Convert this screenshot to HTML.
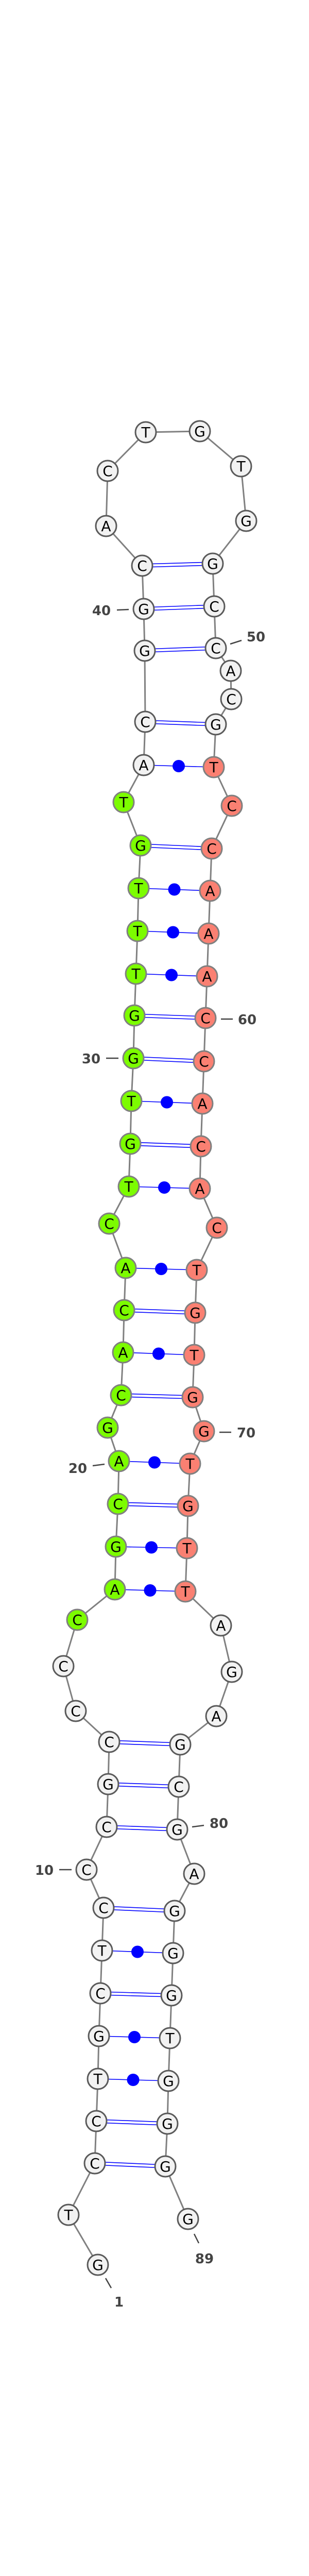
<!DOCTYPE html>
<html><head><meta charset="utf-8"><style>
html,body{margin:0;padding:0;background:#fff;width:600px;height:5251px;overflow:hidden;}
svg{display:block;}
.bb{fill:none;stroke:#808080;stroke-width:3;}
.p{stroke:#0000ff;stroke-width:1.6;}
.d{fill:#0000ff;}
circle.w{fill:#f2f2f2;stroke:#5a5a5a;stroke-width:3;}
circle.g{fill:#7cfc00;stroke:#808080;stroke-width:3;}
circle.r{fill:#fa8072;stroke:#808080;stroke-width:3;}
text.t{font-family:"DejaVu Sans","Liberation Sans",sans-serif;font-size:28px;text-anchor:middle;fill:#000;}
text.n{font-family:"DejaVu Sans","Liberation Sans",sans-serif;font-size:26px;font-weight:bold;text-anchor:middle;fill:#444;}
.tk{stroke:#444;stroke-width:2.5;}
</style></head><body>
<svg width="600" height="5251" viewBox="0 0 600 5251" xmlns="http://www.w3.org/2000/svg">
<polyline class="bb" points="190,4396 133,4299 184,4199 187,4117 190,4035 192,3952 195,3869 198,3786 201,3703 168,3629 207,3546 210,3463 212,3381 147,3321 123,3234 150,3144 223,3085 225,3002 229,2919 231,2836 209,2771 235,2708 239,2625 241,2543 244,2461 212,2375 250,2303 253,2220 255,2137 259,2054 261,1971 264,1890 267,1807 269,1724 273,1641 240,1557 279,1485 282,1401 281,1263 279,1182 276,1098 206,1021 209,914 283,839 388,837 468,905 478,1011 413,1094 416,1177 419,1258 448,1302 449,1357 419,1406 415,1489 450,1564 411,1647 408,1729 405,1812 402,1895 399,1976 396,2060 393,2142 390,2225 388,2307 421,2383 382,2465 379,2548 377,2630 374,2712 396,2778 369,2841 365,2923 363,3005 360,3089 429,3155 450,3245 420,3331 350,3386 347,3468 344,3551 377,3637 339,3709 336,3791 333,3873 330,3956 327,4039 325,4122 321,4205 365,4307"/>
<g class="p">
<line x1="184" y1="4196" x2="321" y2="4202"/><line x1="184" y1="4202" x2="321" y2="4208"/>
<line x1="187" y1="4114" x2="325" y2="4119"/><line x1="187" y1="4120" x2="325" y2="4125"/>
<line x1="195" y1="3866" x2="333" y2="3870"/><line x1="195" y1="3872" x2="333" y2="3876"/>
<line x1="201" y1="3700" x2="339" y2="3706"/><line x1="201" y1="3706" x2="339" y2="3712"/>
<line x1="207" y1="3543" x2="344" y2="3548"/><line x1="207" y1="3549" x2="344" y2="3554"/>
<line x1="210" y1="3460" x2="347" y2="3465"/><line x1="210" y1="3466" x2="347" y2="3471"/>
<line x1="212" y1="3378" x2="350" y2="3383"/><line x1="212" y1="3384" x2="350" y2="3389"/>
<line x1="229" y1="2916" x2="365" y2="2920"/><line x1="229" y1="2922" x2="365" y2="2926"/>
<line x1="235" y1="2705" x2="374" y2="2709"/><line x1="235" y1="2711" x2="374" y2="2715"/>
<line x1="241" y1="2540" x2="379" y2="2545"/><line x1="241" y1="2546" x2="379" y2="2551"/>
<line x1="253" y1="2217" x2="390" y2="2222"/><line x1="253" y1="2223" x2="390" y2="2228"/>
<line x1="259" y1="2051" x2="396" y2="2057"/><line x1="259" y1="2057" x2="396" y2="2063"/>
<line x1="261" y1="1968" x2="399" y2="1973"/><line x1="261" y1="1974" x2="399" y2="1979"/>
<line x1="273" y1="1638" x2="411" y2="1644"/><line x1="273" y1="1644" x2="411" y2="1650"/>
<line x1="282" y1="1398" x2="419" y2="1403"/><line x1="282" y1="1404" x2="419" y2="1409"/>
<line x1="281" y1="1260" x2="419" y2="1255"/><line x1="281" y1="1266" x2="419" y2="1261"/>
<line x1="279" y1="1179" x2="416" y2="1174"/><line x1="279" y1="1185" x2="416" y2="1180"/>
<line x1="276" y1="1095" x2="413" y2="1091"/><line x1="276" y1="1101" x2="413" y2="1097"/>
</g>
<g class="p">
<line x1="190" y1="4035" x2="327" y2="4039"/>
<line x1="192" y1="3952" x2="330" y2="3956"/>
<line x1="198" y1="3786" x2="336" y2="3791"/>
<line x1="223" y1="3085" x2="360" y2="3089"/>
<line x1="225" y1="3002" x2="363" y2="3005"/>
<line x1="231" y1="2836" x2="369" y2="2841"/>
<line x1="239" y1="2625" x2="377" y2="2630"/>
<line x1="244" y1="2461" x2="382" y2="2465"/>
<line x1="250" y1="2303" x2="388" y2="2307"/>
<line x1="255" y1="2137" x2="393" y2="2142"/>
<line x1="264" y1="1890" x2="402" y2="1895"/>
<line x1="267" y1="1807" x2="405" y2="1812"/>
<line x1="269" y1="1724" x2="408" y2="1729"/>
<line x1="279" y1="1485" x2="415" y2="1489"/>
</g>
<g class="d">
<circle cx="258.5" cy="4037" r="12"/>
<circle cx="261" cy="3954" r="12"/>
<circle cx="267" cy="3788.5" r="12"/>
<circle cx="291.5" cy="3087" r="12"/>
<circle cx="294" cy="3003.5" r="12"/>
<circle cx="300" cy="2838.5" r="12"/>
<circle cx="308" cy="2627.5" r="12"/>
<circle cx="313" cy="2463" r="12"/>
<circle cx="319" cy="2305" r="12"/>
<circle cx="324" cy="2139.5" r="12"/>
<circle cx="333" cy="1892.5" r="12"/>
<circle cx="336" cy="1809.5" r="12"/>
<circle cx="338.5" cy="1726.5" r="12"/>
<circle cx="347" cy="1487" r="12"/>
</g>
<circle class="w" cx="190" cy="4396" r="20"/><text class="t" x="190" y="4406">G</text>
<circle class="w" cx="133" cy="4299" r="20"/><text class="t" x="133" y="4309">T</text>
<circle class="w" cx="184" cy="4199" r="20"/><text class="t" x="184" y="4209">C</text>
<circle class="w" cx="187" cy="4117" r="20"/><text class="t" x="187" y="4127">C</text>
<circle class="w" cx="190" cy="4035" r="20"/><text class="t" x="190" y="4045">T</text>
<circle class="w" cx="192" cy="3952" r="20"/><text class="t" x="192" y="3962">G</text>
<circle class="w" cx="195" cy="3869" r="20"/><text class="t" x="195" y="3879">C</text>
<circle class="w" cx="198" cy="3786" r="20"/><text class="t" x="198" y="3796">T</text>
<circle class="w" cx="201" cy="3703" r="20"/><text class="t" x="201" y="3713">C</text>
<circle class="w" cx="168" cy="3629" r="20"/><text class="t" x="168" y="3639">C</text>
<circle class="w" cx="207" cy="3546" r="20"/><text class="t" x="207" y="3556">C</text>
<circle class="w" cx="210" cy="3463" r="20"/><text class="t" x="210" y="3473">G</text>
<circle class="w" cx="212" cy="3381" r="20"/><text class="t" x="212" y="3391">C</text>
<circle class="w" cx="147" cy="3321" r="20"/><text class="t" x="147" y="3331">C</text>
<circle class="w" cx="123" cy="3234" r="20"/><text class="t" x="123" y="3244">C</text>
<circle class="g" cx="150" cy="3144" r="20"/><text class="t" x="150" y="3154">C</text>
<circle class="g" cx="223" cy="3085" r="20"/><text class="t" x="223" y="3095">A</text>
<circle class="g" cx="225" cy="3002" r="20"/><text class="t" x="225" y="3012">G</text>
<circle class="g" cx="229" cy="2919" r="20"/><text class="t" x="229" y="2929">C</text>
<circle class="g" cx="231" cy="2836" r="20"/><text class="t" x="231" y="2846">A</text>
<circle class="g" cx="209" cy="2771" r="20"/><text class="t" x="209" y="2781">G</text>
<circle class="g" cx="235" cy="2708" r="20"/><text class="t" x="235" y="2718">C</text>
<circle class="g" cx="239" cy="2625" r="20"/><text class="t" x="239" y="2635">A</text>
<circle class="g" cx="241" cy="2543" r="20"/><text class="t" x="241" y="2553">C</text>
<circle class="g" cx="244" cy="2461" r="20"/><text class="t" x="244" y="2471">A</text>
<circle class="g" cx="212" cy="2375" r="20"/><text class="t" x="212" y="2385">C</text>
<circle class="g" cx="250" cy="2303" r="20"/><text class="t" x="250" y="2313">T</text>
<circle class="g" cx="253" cy="2220" r="20"/><text class="t" x="253" y="2230">G</text>
<circle class="g" cx="255" cy="2137" r="20"/><text class="t" x="255" y="2147">T</text>
<circle class="g" cx="259" cy="2054" r="20"/><text class="t" x="259" y="2064">G</text>
<circle class="g" cx="261" cy="1971" r="20"/><text class="t" x="261" y="1981">G</text>
<circle class="g" cx="264" cy="1890" r="20"/><text class="t" x="264" y="1900">T</text>
<circle class="g" cx="267" cy="1807" r="20"/><text class="t" x="267" y="1817">T</text>
<circle class="g" cx="269" cy="1724" r="20"/><text class="t" x="269" y="1734">T</text>
<circle class="g" cx="273" cy="1641" r="20"/><text class="t" x="273" y="1651">G</text>
<circle class="g" cx="240" cy="1557" r="20"/><text class="t" x="240" y="1567">T</text>
<circle class="w" cx="279" cy="1485" r="20"/><text class="t" x="279" y="1495">A</text>
<circle class="w" cx="282" cy="1401" r="20"/><text class="t" x="282" y="1411">C</text>
<circle class="w" cx="281" cy="1263" r="20"/><text class="t" x="281" y="1273">G</text>
<circle class="w" cx="279" cy="1182" r="20"/><text class="t" x="279" y="1192">G</text>
<circle class="w" cx="276" cy="1098" r="20"/><text class="t" x="276" y="1108">C</text>
<circle class="w" cx="206" cy="1021" r="20"/><text class="t" x="206" y="1031">A</text>
<circle class="w" cx="209" cy="914" r="20"/><text class="t" x="209" y="924">C</text>
<circle class="w" cx="283" cy="839" r="20"/><text class="t" x="283" y="849">T</text>
<circle class="w" cx="388" cy="837" r="20"/><text class="t" x="388" y="847">G</text>
<circle class="w" cx="468" cy="905" r="20"/><text class="t" x="468" y="915">T</text>
<circle class="w" cx="478" cy="1011" r="20"/><text class="t" x="478" y="1021">G</text>
<circle class="w" cx="413" cy="1094" r="20"/><text class="t" x="413" y="1104">G</text>
<circle class="w" cx="416" cy="1177" r="20"/><text class="t" x="416" y="1187">C</text>
<circle class="w" cx="419" cy="1258" r="20"/><text class="t" x="419" y="1268">C</text>
<circle class="w" cx="448" cy="1302" r="20"/><text class="t" x="448" y="1312">A</text>
<circle class="w" cx="449" cy="1357" r="20"/><text class="t" x="449" y="1367">C</text>
<circle class="w" cx="419" cy="1406" r="20"/><text class="t" x="419" y="1416">G</text>
<circle class="r" cx="415" cy="1489" r="20"/><text class="t" x="415" y="1499">T</text>
<circle class="r" cx="450" cy="1564" r="20"/><text class="t" x="450" y="1574">C</text>
<circle class="r" cx="411" cy="1647" r="20"/><text class="t" x="411" y="1657">C</text>
<circle class="r" cx="408" cy="1729" r="20"/><text class="t" x="408" y="1739">A</text>
<circle class="r" cx="405" cy="1812" r="20"/><text class="t" x="405" y="1822">A</text>
<circle class="r" cx="402" cy="1895" r="20"/><text class="t" x="402" y="1905">A</text>
<circle class="r" cx="399" cy="1976" r="20"/><text class="t" x="399" y="1986">C</text>
<circle class="r" cx="396" cy="2060" r="20"/><text class="t" x="396" y="2070">C</text>
<circle class="r" cx="393" cy="2142" r="20"/><text class="t" x="393" y="2152">A</text>
<circle class="r" cx="390" cy="2225" r="20"/><text class="t" x="390" y="2235">C</text>
<circle class="r" cx="388" cy="2307" r="20"/><text class="t" x="388" y="2317">A</text>
<circle class="r" cx="421" cy="2383" r="20"/><text class="t" x="421" y="2393">C</text>
<circle class="r" cx="382" cy="2465" r="20"/><text class="t" x="382" y="2475">T</text>
<circle class="r" cx="379" cy="2548" r="20"/><text class="t" x="379" y="2558">G</text>
<circle class="r" cx="377" cy="2630" r="20"/><text class="t" x="377" y="2640">T</text>
<circle class="r" cx="374" cy="2712" r="20"/><text class="t" x="374" y="2722">G</text>
<circle class="r" cx="396" cy="2778" r="20"/><text class="t" x="396" y="2788">G</text>
<circle class="r" cx="369" cy="2841" r="20"/><text class="t" x="369" y="2851">T</text>
<circle class="r" cx="365" cy="2923" r="20"/><text class="t" x="365" y="2933">G</text>
<circle class="r" cx="363" cy="3005" r="20"/><text class="t" x="363" y="3015">T</text>
<circle class="r" cx="360" cy="3089" r="20"/><text class="t" x="360" y="3099">T</text>
<circle class="w" cx="429" cy="3155" r="20"/><text class="t" x="429" y="3165">A</text>
<circle class="w" cx="450" cy="3245" r="20"/><text class="t" x="450" y="3255">G</text>
<circle class="w" cx="420" cy="3331" r="20"/><text class="t" x="420" y="3341">A</text>
<circle class="w" cx="350" cy="3386" r="20"/><text class="t" x="350" y="3396">G</text>
<circle class="w" cx="347" cy="3468" r="20"/><text class="t" x="347" y="3478">C</text>
<circle class="w" cx="344" cy="3551" r="20"/><text class="t" x="344" y="3561">G</text>
<circle class="w" cx="377" cy="3637" r="20"/><text class="t" x="377" y="3647">A</text>
<circle class="w" cx="339" cy="3709" r="20"/><text class="t" x="339" y="3719">G</text>
<circle class="w" cx="336" cy="3791" r="20"/><text class="t" x="336" y="3801">G</text>
<circle class="w" cx="333" cy="3873" r="20"/><text class="t" x="333" y="3883">G</text>
<circle class="w" cx="330" cy="3956" r="20"/><text class="t" x="330" y="3966">T</text>
<circle class="w" cx="327" cy="4039" r="20"/><text class="t" x="327" y="4049">G</text>
<circle class="w" cx="325" cy="4122" r="20"/><text class="t" x="325" y="4132">G</text>
<circle class="w" cx="321" cy="4205" r="20"/><text class="t" x="321" y="4215">G</text>
<circle class="w" cx="365" cy="4307" r="20"/><text class="t" x="365" y="4317">G</text>
<line class="tk" x1="227" y1="1184" x2="250" y2="1183"/><text class="n" x="197" y="1194">40</text>
<line class="tk" x1="447" y1="1250" x2="469" y2="1243"/><text class="n" x="497" y="1245">50</text>
<line class="tk" x1="429" y1="1978" x2="452" y2="1978"/><text class="n" x="480" y="1988">60</text>
<line class="tk" x1="206" y1="2054" x2="230" y2="2054"/><text class="n" x="177" y="2064">30</text>
<line class="tk" x1="426" y1="2780" x2="449" y2="2780"/><text class="n" x="478" y="2790">70</text>
<line class="tk" x1="180" y1="2845" x2="203" y2="2842"/><text class="n" x="151" y="2859">20</text>
<line class="tk" x1="373" y1="3546" x2="396" y2="3543"/><text class="n" x="425" y="3548">80</text>
<line class="tk" x1="115" y1="3629" x2="139" y2="3629"/><text class="n" x="86" y="3639">10</text>
<line class="tk" x1="377" y1="4336" x2="386" y2="4354"/><text class="n" x="397" y="4393">89</text>
<line class="tk" x1="205" y1="4422" x2="216" y2="4441"/><text class="n" x="231" y="4477">1</text>
<text x="300" y="5244" style="font-family:'Liberation Sans',sans-serif;font-size:12.5px;font-weight:bold;text-anchor:middle;fill:#000;">mml-mir-497_annot [-42.8]</text>
</svg>
</body></html>
